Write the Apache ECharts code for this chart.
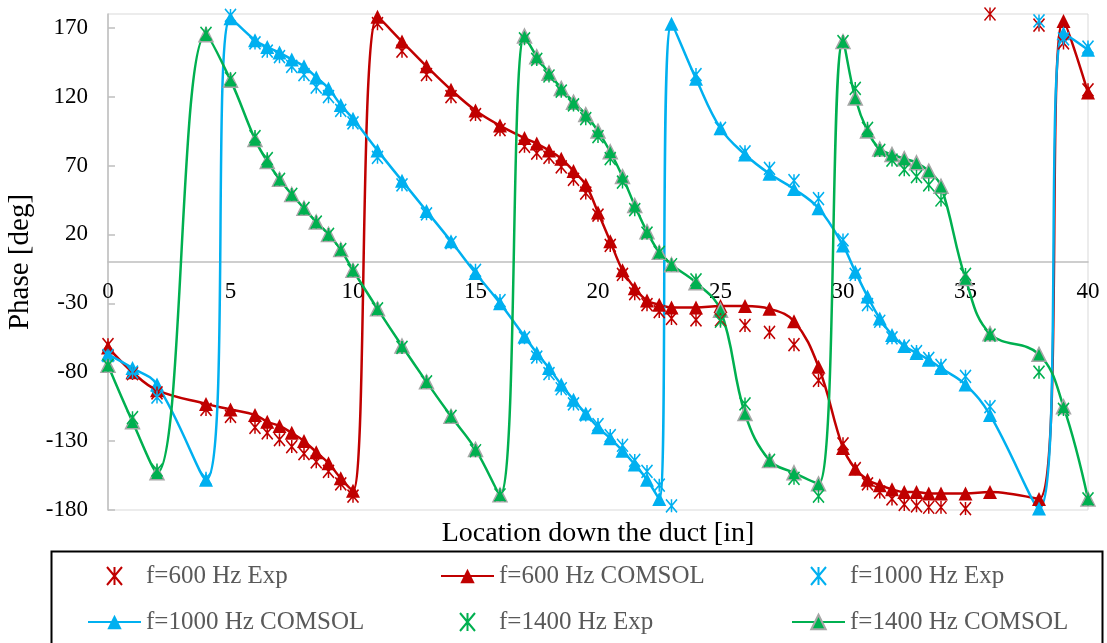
<!DOCTYPE html>
<html>
<head>
<meta charset="utf-8">
<script src="https://cdn.jsdelivr.net/npm/echarts/dist/echarts.min.js"></script>
<style>
  html, body { margin: 0; padding: 0; background: #fff; }
  #main { width: 1107px; height: 643px; }
</style>
</head>
<body>
<div id="main"></div>
<script>
// measurement locations [in]
var xs = [0, 1, 2, 4, 5, 6, 6.5, 7, 7.5, 8, 8.5, 9, 9.5, 10,
  11, 12, 13, 14, 15, 16,
  17, 17.5, 18, 18.5, 19, 19.5, 20, 20.5, 21, 21.5, 22, 22.5, 23,
  24, 25, 26, 27, 28, 29,
  30, 30.5, 31, 31.5, 32, 32.5, 33, 33.5, 34,
  35, 36, 38, 39, 40];

// phase [deg]
var exp600 = [-60, -81, -95, -107, -112, -120, -124, -129, -134, -139, -145, -152, -161, -170,
  173, 153, 136, 120, 107, 96,
  84, 79, 76, 69, 60, 50, 34, 12, -9, -23, -31, -36, -41,
  -42, -42, -46, -51, -60, -86,
  -132, -150, -161, -167, -172, -176, -177, -178, -178,
  -179, 180, 172, 159, 125];
var com600 = [-62, -80, -93, -103, -107, -111, -116, -119, -124, -130, -138, -146, -157, -166,
  178, 160, 142, 125, 110, 99,
  90, 86, 81, 75, 66, 56, 36, 15, -6, -19, -28, -31, -33,
  -33, -32, -32, -34, -43, -76,
  -135, -150, -158, -162, -165, -167, -167, -168, -168,
  -168, -167, -172, 175, 123];
var exp1000 = [-68, -80, -98, -157, 179, 159, 153, 149, 142, 136, 127, 120, 110, 101,
  76, 56, 35, 14, -6, -28,
  -55, -69, -81, -92, -103, -111, -118, -126, -133, -144, -152, -162, -177,
  136, 97, 80, 68, 59, 46,
  16, -9, -31, -43, -55, -61, -65, -70, -75,
  -83, -105, 175, 162, 156];
var com1000 = [-67, -77, -89, -158, 177, 161, 156, 152, 147, 142, 134, 126, 114, 104,
  81, 59, 37, 15, -8, -30,
  -54, -66, -77, -89, -100, -110, -120, -128, -137, -147, -158, -172, 173,
  133, 97, 78, 64, 53, 39,
  12, -7, -25, -41, -53, -61, -66, -71, -77,
  -89, -111, -179, 166, 154];
var exp1400 = [-75, -113, -151, 166, 133, 91, 75, 60, 49, 39, 29, 20, 9, -6,
  -34, -62, -87, -112, -137, -169,
  162, 147, 135, 124, 114, 104, 91, 75, 58, 38, 21, 7, -2,
  -13, -43, -103, -144, -157, -170,
  160, 126, 97, 81, 74, 67, 62, 56, 45,
  -9, -53, -80, -107, -172];
var com1400 = [-75, -116, -153, 165, 132, 89, 73, 60, 49, 39, 29, 20, 9, -6,
  -34, -61, -87, -112, -136, -169,
  164, 149, 137, 126, 116, 107, 95, 80, 62, 41, 22, 7, -2,
  -15, -35, -110, -144, -153, -161,
  160, 119, 95, 82, 78, 75, 72, 66, 55,
  -12, -52, -67, -105, -172];

var names = ['f=600 Hz Exp', 'f=600 Hz COMSOL', 'f=1000 Hz Exp',
  'f=1000 Hz COMSOL', 'f=1400 Hz Exp', 'f=1400 Hz COMSOL'];
var RED = '#C00000', BLUE = '#00B0F0', GREEN = '#00B050';
var FONT = '"Times New Roman", "Liberation Serif", serif';
var STAR = 'path://M0,0L10,12M10,0L0,12M5,0L5,12';

function pairs(vals) {
  return xs.map(function (x, i) { return [x, vals[i]]; });
}

function expSeries(name, vals, color) {
  return {
    name: name, type: 'scatter', data: pairs(vals),
    symbol: STAR, symbolSize: [11, 13], z: 4,
    itemStyle: { color: color, borderColor: color, borderWidth: 1.6, opacity: 1 }
  };
}

function comSeries(name, vals, color, border) {
  return {
    name: name, type: 'line', data: pairs(vals), smooth: 0.4,
    symbol: 'triangle', symbolSize: 14, showAllSymbol: true, z: 3,
    lineStyle: { color: color, width: 2.5 },
    itemStyle: { color: color, borderColor: border || color, borderWidth: border ? 1.5 : 0 }
  };
}

function legendCol(left, items) {
  return {
    orient: 'vertical', left: left, top: 558, selectedMode: false,
    itemWidth: 53, itemHeight: 18, itemGap: 20,
    data: items,
    textStyle: { fontFamily: FONT, fontSize: 25, color: '#595959', lineHeight: 26 }
  };
}

var chart = echarts.init(document.getElementById('main'), null, { renderer: 'canvas' });
chart.setOption({
  animation: false,
  backgroundColor: '#fff',
  grid: {
    left: 108, right: 19, top: 14, bottom: 133, containLabel: false, outerBoundsMode: 'none',
    show: true, borderColor: '#d9d9d9', borderWidth: 1
  },
  xAxis: {
    type: 'value', min: 0, max: 40, interval: 5,
    // sit the axis on the zero line
    offset: -248,
    name: 'Location down the duct [in]', nameLocation: 'middle', nameGap: 258,
    nameTextStyle: { fontFamily: FONT, fontSize: 28, color: '#000' },
    axisLine: { onZero: false, lineStyle: { color: '#bfbfbf', width: 1.5 } },
    axisTick: { show: false },
    splitLine: { show: false },
    axisLabel: { fontFamily: FONT, fontSize: 23, color: '#000', margin: 18 }
  },
  yAxis: {
    type: 'value', min: -180, max: 180, interval: 50,
    name: 'Phase [deg]', nameLocation: 'middle', nameGap: 70,
    nameTextStyle: { fontFamily: FONT, fontSize: 29, color: '#000' },
    axisLine: { show: true, onZero: false, lineStyle: { color: '#bfbfbf', width: 1.5 } },
    axisTick: { show: true, inside: true, length: 7, lineStyle: { color: '#bfbfbf', width: 1.5 } },
    splitLine: { show: false },
    axisLabel: { fontFamily: FONT, fontSize: 23, color: '#000', margin: 20, showMaxLabel: false }
  },
  legend: [
    legendCol(82, [names[0], names[3]]),
    legendCol(435, [names[1], names[4]]),
    legendCol(786, [names[2], names[5]])
  ],
  graphic: [{
    type: 'rect', left: 49, top: 549, z: 10,
    shape: { width: 1051, height: 110 },
    style: { fill: 'none', stroke: '#000', lineWidth: 2 }
  }],
  series: [
    comSeries(names[1], com600, RED),
    comSeries(names[3], com1000, BLUE),
    comSeries(names[5], com1400, GREEN, '#a6a6a6'),
    expSeries(names[0], exp600, RED),
    expSeries(names[2], exp1000, BLUE),
    expSeries(names[4], exp1400, GREEN)
  ]
});
</script>
</body>
</html>
